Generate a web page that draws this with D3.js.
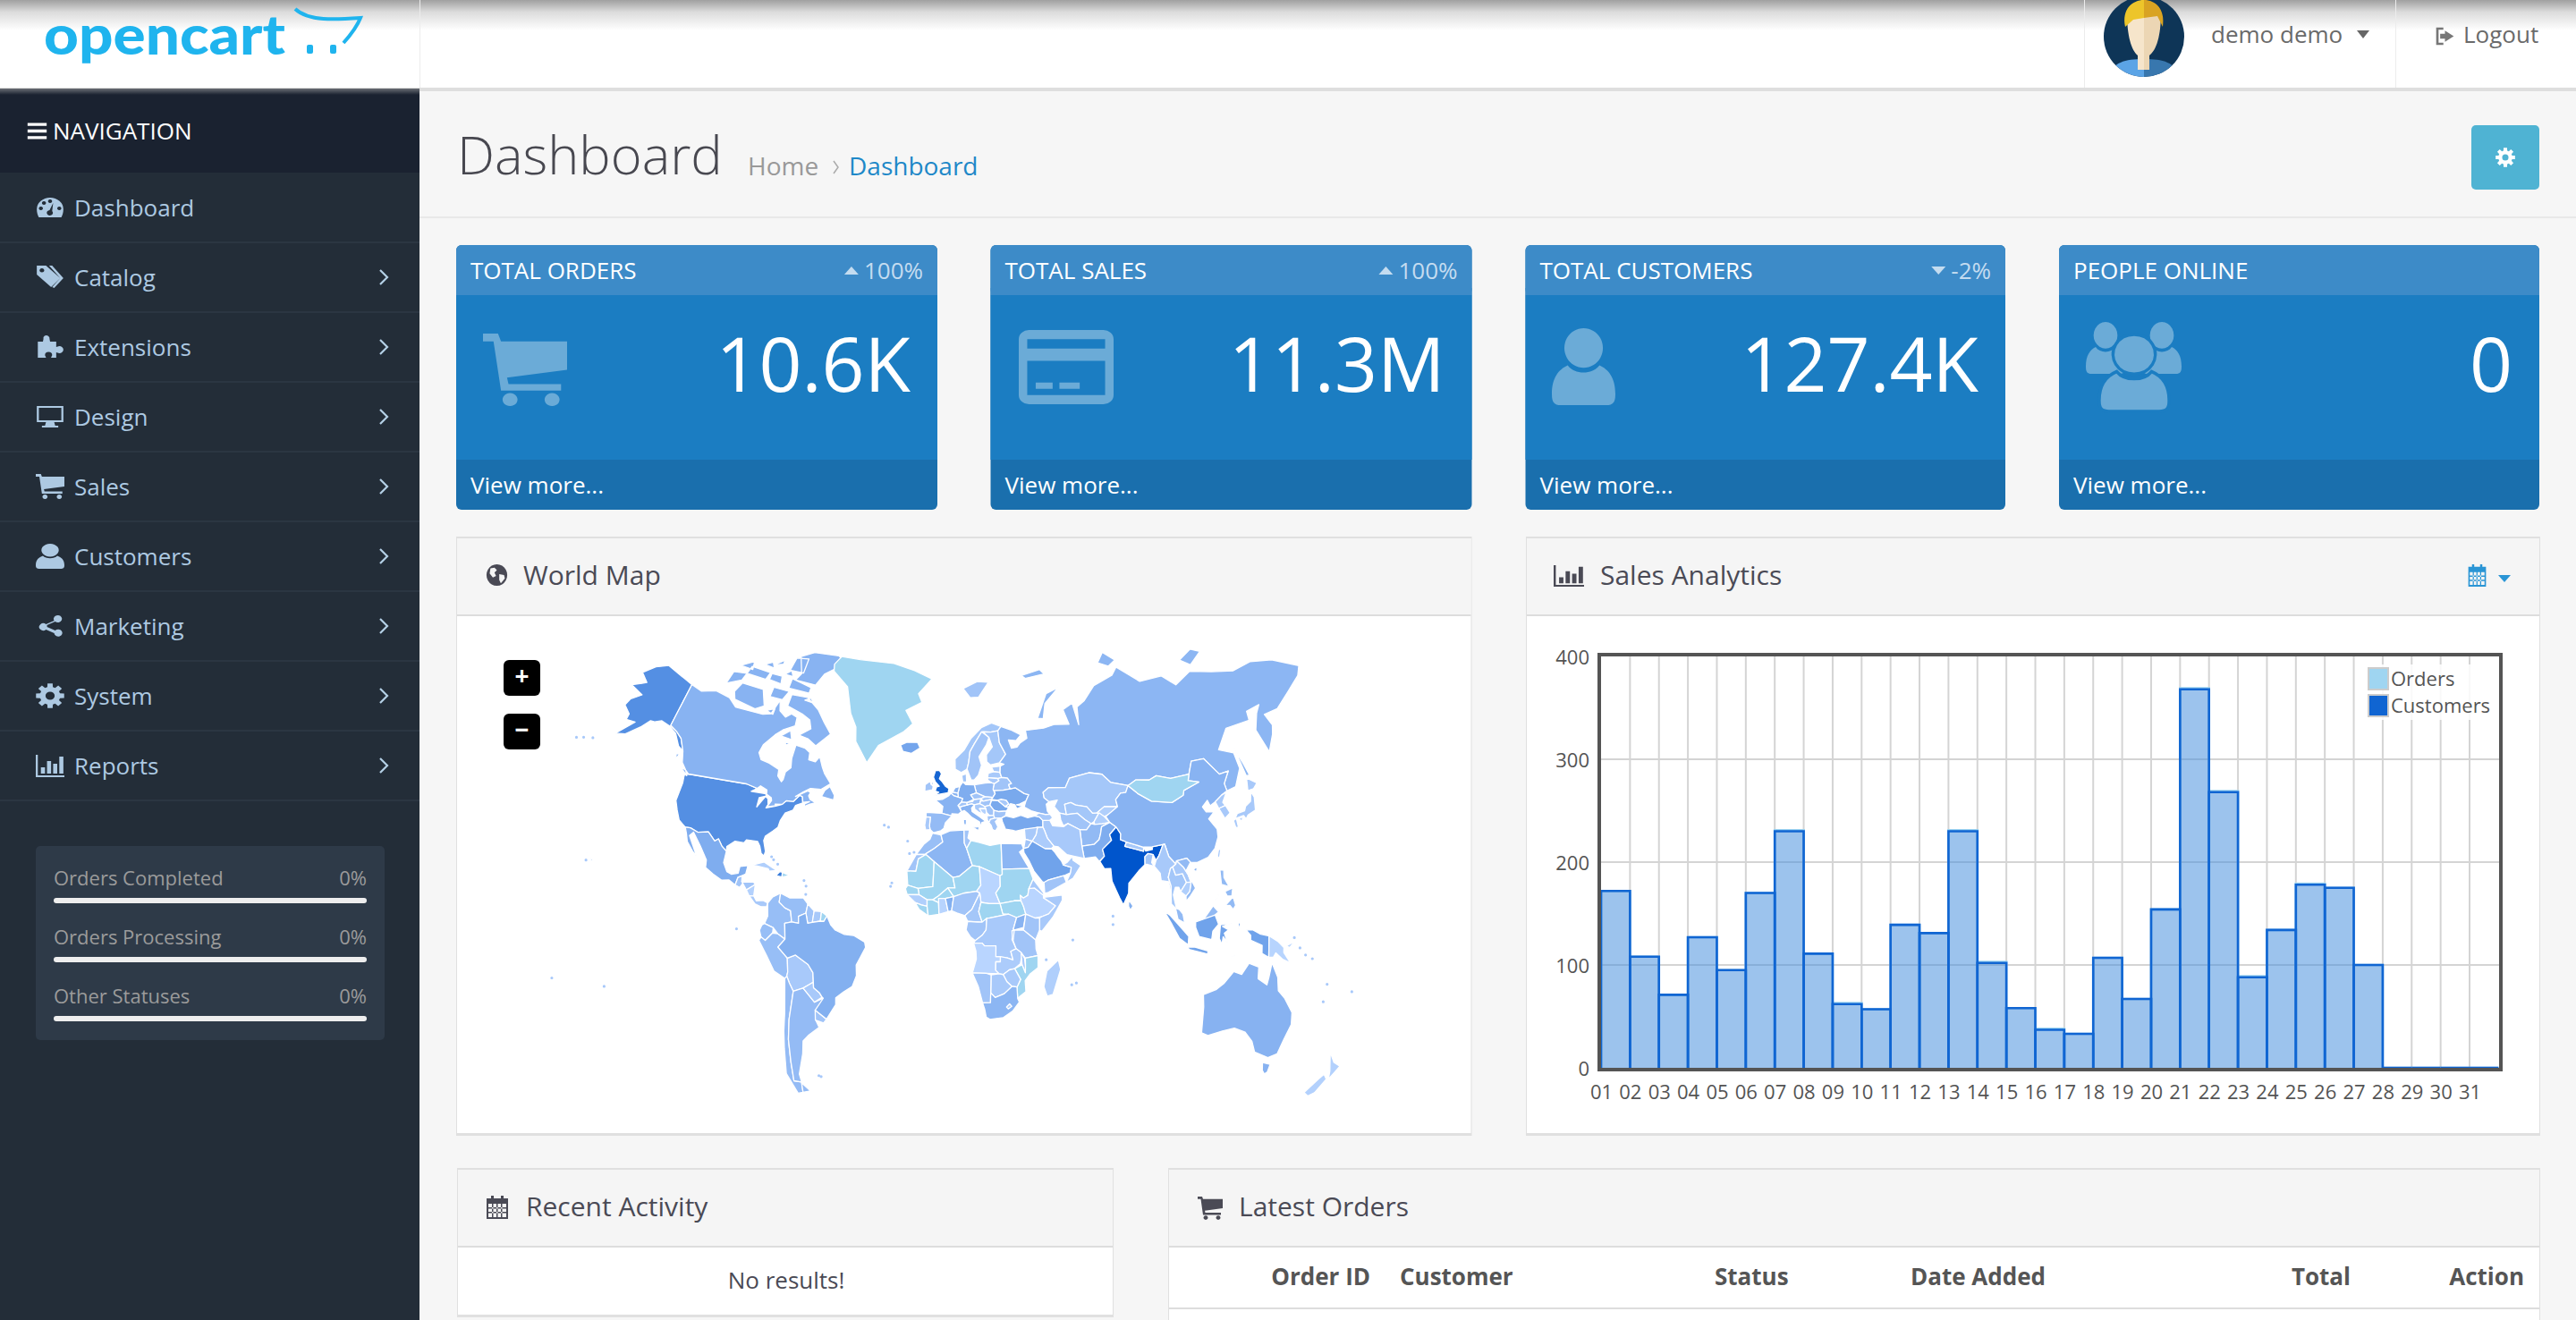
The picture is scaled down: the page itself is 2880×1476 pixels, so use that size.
<!DOCTYPE html>
<html>
<head>
<meta charset="utf-8">
<title>Dashboard</title>
<script src="https://cdn.jsdelivr.net/npm/d3@7"></script>
<style>
  html, body { margin: 0; padding: 0; background: #f6f6f6; overflow: hidden; }
  svg { display: block; }
  text { font-family: "Open Sans", sans-serif; }
  .axis path, .axis line { display: none; }
  .axis text { font-family: "Open Sans", sans-serif; font-size: 22px; fill: #545454; }
</style>
</head>
<body>
<div class="page"></div>
<script>
// Chart data
const days = d3.range(1, 32);
const customers = [172, 108, 71, 127, 95, 170, 230, 111, 62, 57, 139, 131, 230, 102, 58, 37, 33, 107, 67, 154, 368, 268, 88, 134, 178, 175, 100, 0, 0, 0, 0];
const orders = [172, 108, 71, 127, 95, 170, 231, 111, 63, 57, 139, 131, 231, 103, 58, 38, 33, 107, 67, 154, 369, 269, 89, 134, 179, 175, 100, 0, 0, 0, 0];
const yTicks = [0, 100, 200, 300, 400];
const legendLabels = ['Orders', 'Customers'];

// Page text
const menuLabels = ['Dashboard', 'Catalog', 'Extensions', 'Design', 'Sales', 'Customers', 'Marketing', 'System', 'Reports'];
const menuIcons = ['gauge', 'tags', 'puzzle', 'desktop', 'cart', 'user', 'share', 'cog', 'bars'];
const statusLabels = ['Orders Completed', 'Orders Processing', 'Other Statuses'];
const statusValues = ['0%', '0%', '0%'];
const cardTitles = ['TOTAL ORDERS', 'TOTAL SALES', 'TOTAL CUSTOMERS', 'PEOPLE ONLINE'];
const cardDeltas = ['100%', '100%', '-2%', ''];
const cardValues = ['10.6K', '11.3M', '127.4K', '0'];
const tableHeads = ['Order ID', 'Customer', 'Status', 'Date Added', 'Total', 'Action'];

// World map, lon,lat outlines per country
const mapShapes = {
  AK: ['-141,69.6 -148,70.4 -156.5,71.3 -162,70.2 -166.5,68.4 -162,67 -164,66.5 -168,65.6 -161,64.5 -165,63 -166,61.5 -162,60 -162,58.7 -157.5,58.7 -163.5,55 -159,55.5 -154,58 -151,60 -149,60 -146,60.7 -141,60 -137,58.8 -133,56 -130,55 -133.5,58 -137,59.3 -141,60.3'],
  US: ['-124.7,48.4 -123,49 -95.2,49 -89.6,48 -92,46.8 -85,46.6 -84.5,45.8 -87.5,45 -87.5,41.8 -86.3,43.5 -84.8,45.7 -83.4,45 -82.6,43 -83.2,41.8 -79,42.8 -76.5,43.5 -74.8,45 -71.5,45 -69.2,47.4 -67.8,47 -67,44.8 -70,43.7 -70.7,42 -74,40.7 -75.5,38 -76,35.5 -78,34 -81,32 -81.4,30.5 -80,26.8 -80.4,25.2 -81.8,26 -82.8,28.5 -84,30 -89,30.3 -90,29.2 -94,29.5 -97.3,27.5 -97.2,25.9 -99.5,27.5 -101.5,29.8 -103,29 -106.5,31.8 -111,31.3 -114.8,32.5 -117.1,32.5 -120.5,34.5 -122.5,37.5 -124.3,40.4 -124,46', '-155.9,20.2 -155,19.7 -155.6,19', '-158.2,21.7 -157.7,21.3 -158.2,21.3'],
  CA: ['-141,69.6 -135,69 -128,70 -120,69.5 -115,68 -108,68 -100,68 -96,68.5 -94,71.8 -92,69.6 -88,68.5 -85.5,69.5 -82,69 -81.5,67 -87,65.5 -90,64 -94,61 -94.7,58.8 -92.5,57 -88,56.4 -82.5,55 -82,53 -79.5,51.3 -79,52 -79,54.5 -77,56 -78,58.7 -78,62.4 -73,62 -70,61 -69.5,59 -66,58.7 -64.5,60.3 -62,57.5 -60,55.5 -56,52.5 -60,50.2 -65,50.2 -68,48.7 -71,46.8 -66,49.2 -64.5,48.8 -65,47.5 -64,46.3 -61,45.3 -63.5,44.6 -66,43.6 -66,44.5 -64,45.5 -67,45 -67.8,47 -69.2,47.4 -71.5,45 -74.8,45 -76.3,43.6 -79.5,43.4 -79,42.9 -83,42.2 -82.4,43 -81.5,44.5 -82,45.5 -84.6,46.5 -85,47.9 -88.5,49 -89.6,48 -95.2,49 -123,49 -125,50 -128,52 -130,55 -133.5,58 -137,59.3 -141,60.3',
    '-62,66.5 -68,63 -73,64.5 -78,65 -73,67 -75,69 -80,70 -89,71 -89,73.5 -80,73.7 -72,71.5 -67,69', '-117,69.5 -105,68.7 -101,69.8 -105,73 -117,73 -119,71', '-90,76.5 -78,76.5 -75,79 -64,82 -70,83 -85,82.4 -92,81 -88,78', '-125,72 -118,73.5 -117,75 -124,74.5', '-92,74.6 -80,74.6 -80,75.8 -92,76.6', '-100,72 -93,72 -91,74 -100,74', '-117,75 -106,75 -105,76.5 -116,76.5', '-95,78 -87,78.2 -87,81 -94,80.5', '-87,64 -81,63.6 -83,65.7', '-59,47.7 -53,46.8 -53,48.5 -56,51.5 -58,50', '-128,50.7 -123.5,48.4 -125,50', '-64,49.9 -62,49.4 -62,49.1',
    '-122,76 -116,77.5 -115,76', '-104,75.2 -97,75 -98,76.5 -104,76.4', '-105,78 -100,78.7 -100,79.5', '-99,69 -95,68.5 -95,69.8', '-81,73 -76,72.8 -78,73.7', '-84,62.8 -81,62.4 -83,62', '-97,77 -92,77 -94,78', '-110,77.6 -104,77.5 -106,78.5', '-132.5,54 -131,54 -131.5,52.5'],
  GL: ['-68,83 -56,83.2 -34,83.5 -20,82.5 -8.6,81 -16.4,77.8 -14,76 -23,74 -18.4,71 -23,69 -35.7,65 -40.3,60 -48,65.5 -49.5,69 -54,72 -59.5,77.5 -70,80 -71,81.3'],
  IS: ['-24,65.5 -21,66.3 -15,66.4 -13.5,65 -18,63.4 -22.5,63.9'],
  MX: ['-117.1,32.5 -114.8,32.5 -111,31.3 -106.5,31.8 -103,29 -101.5,29.8 -99.5,27.5 -97.2,25.9 -97.8,22 -96,19 -94,18.2 -91,18.7 -90.5,21 -87,21.5 -87.7,18.5 -89,18 -91,17.2 -92,14.6 -94.8,16.2 -98,16 -102,18 -105.5,20 -105.5,22.5 -109,27 -113,31.2 -114.5,30 -112,26.5 -110,23.5 -112,25 -115,28 -116,30.5'],
  GT: ['-92,14.6 -91,17.2 -89.2,17.8 -89.2,15.9 -88.3,15.7 -90,13.8'],
  HN: ['-89.2,15.9 -88.3,15.7 -84,15.8 -83.2,15 -87,13'],
  NI: ['-87,13 -83.2,15 -83.7,11 -85.7,11'],
  PA: ['-85.7,11 -83.7,11 -82.5,9.3 -79.5,9.5 -77.5,8.6 -78,7.3 -80.5,7.3 -83,8.2'],
  CU: ['-85,21.8 -80,23 -74.2,20.2 -77.5,19.9 -78,20.7'],
  HT: ['-74.4,18.4 -72.8,19.9 -71.7,19.7 -71.7,18'],
  DO: ['-71.7,19.7 -68.4,18.6 -71.7,18'],
  CO: ['-77.5,8.6 -75.5,10.7 -72,12.2 -72.5,9 -70,7 -67.5,6 -67,2 -70,1.5 -69.9,-4.2 -73,-2.3 -75,-0.1 -78.8,1.4 -77.4,4 -77.5,7'],
  VE: ['-72,12.2 -68,10.6 -62,10.7 -60,8.5 -60.8,5.2 -64,4 -64,1.5 -67,2 -67.5,6 -70,7 -72.5,9'],
  GY: ['-60,8.5 -57.2,6 -58,1.5 -60,1.5 -60.8,5.2'],
  SR: ['-57.2,6 -54,5.8 -54.5,2.3 -58,1.8'],
  GF: ['-54,5.8 -51.6,4.2 -53,2.2 -54.5,2.3'],
  EC: ['-80,0.8 -78.8,1.4 -75,-0.1 -75.3,-2 -78.5,-4.6 -80.3,-3.4 -81,-1'],
  PE: ['-81.3,-4.5 -80.3,-3.4 -78.5,-4.6 -75.3,-2 -73,-2.3 -69.9,-4.2 -73,-7 -70.5,-9.5 -69,-11 -69,-16 -69.5,-17.5 -70.4,-18.3 -75,-15.5 -78,-10'],
  BO: ['-69,-11 -65.4,-10 -60,-13.5 -58,-16.5 -58,-20 -62.6,-22 -67,-23 -68.5,-20 -69.5,-17.5 -69,-16'],
  CL: ['-70.4,-18.3 -69.5,-17.5 -68.5,-20 -67,-23 -70,-33 -71.5,-40 -72,-47 -72,-52 -68.5,-52.5 -68.6,-54.9 -71,-55 -75,-50 -74,-43 -73,-37 -71.5,-30'],
  AR: ['-67,-23 -62.6,-22 -58,-27.3 -54,-26 -58.3,-33.5 -57,-36.5 -62,-39 -65,-41 -66,-45 -69,-50.5 -68.5,-52.5 -72,-52 -72,-47 -71.5,-40 -70,-33', '-68.6,-52.7 -65,-54.8 -68.6,-54.9'],
  PY: ['-62.6,-22 -58,-20 -58,-22 -55.5,-24 -54.5,-25.6 -58,-27.3'],
  UY: ['-58,-30.2 -53.3,-33.7 -54.8,-35 -58.3,-33.8'],
  BR: ['-60.8,5.2 -60,1.5 -58,1.8 -54.5,2.3 -53,2.2 -51.6,4.2 -50,1 -48,-1 -44,-2.6 -40,-3 -35.2,-5.5 -34.8,-7.5 -37,-11 -39,-14 -39,-18 -41,-22 -45,-24 -48.5,-26 -48.7,-28.5 -53.3,-33.7 -58,-30.2 -54,-26 -54.5,-25.6 -55.5,-24 -58,-22 -58,-16.5 -60,-13.5 -65.4,-10 -69,-11 -70.5,-9.5 -73,-7 -69.9,-4.2 -70,1.5 -67,2 -64,1.5 -64,4'],
  GB: ['-5,58.6 -3,58.6 -2,57.6 -3,56 -1.5,55 0,53.5 1.7,52.7 1.3,51.2 -3,50.6 -5.5,50 -3.2,51.4 -5,51.8 -4.3,53.3 -3,53.5 -5,55 -6,56.5', '-7.2,55.1 -5.5,54.5 -6.5,54'],
  IE: ['-10,54 -7.4,55.3 -7.2,54.2 -6,53.5 -6.3,52.2 -10,51.6'],
  NO: ['5,59 5,62 10,64.5 14,67.5 20,70 26,71 31,70 29,69 25,68.8 20,69 15.5,66 13,64 12,61 11,59 8,58'],
  SE: ['11,59 12,61 13,64 15.5,66 20,69 23.7,67.5 22,65.7 17.5,62.5 18.5,60 16.5,57 14.3,55.5 12.8,55.5'],
  FI: ['20.6,69 25,68.8 29,69 29,66 31.5,62.8 27.8,60.5 23,60 21.3,61 21.5,63 25,65 23.7,67.5'],
  DK: ['8.2,57 10.5,57.6 10.5,55 8.6,54.9'],
  EE: ['23.5,59.3 28,59.5 27.4,57.6 24.3,58'],
  LV: ['21,56.1 21.6,57.5 24.3,57.9 27.4,57.6 28,56 26,55.7'],
  LT: ['21,55.3 21,56.1 26,55.7 26.5,55 24,54 22.8,54.4'],
  BY: ['23.5,53 23.2,52 23.7,51.6 28,51.6 31.5,52 31,53.5 32.5,53.8 30.8,55.7 28,56 26,55.7 26.5,55 24,54'],
  PL: ['14.2,53.9 19.5,54.4 22.8,54.4 24,54 23.5,53 23.2,52 24,50.5 22.7,49.1 19,49.5 15,51 14.7,52'],
  DE: ['8.6,54.9 10,54 14.2,53.9 14.7,52 15,51 12.2,50.3 13.6,48.6 10.2,47.4 7.6,47.6 8.2,49 6.2,49.5 6,51 7,53.4'],
  NL: ['3.5,51.4 4.7,53 7,53.4 6,51'],
  BE: ['2.6,51 3.5,51.4 6,51 6.2,49.6 4.2,50'],
  FR: ['2.6,51 4.2,50 6.2,49.5 8.2,49 7.6,47.6 6,46.3 7.5,44 6,43 3,43.2 3,42.4 -1.7,43.3 -1.2,46 -4.7,48.4 -1.5,48.7 1.5,50'],
  ES: ['-9,43.7 -1.7,43.4 3,42.4 0,39.8 -0.7,37.7 -2,36.8 -5.4,36 -7,37.2 -7.3,38.5 -7,41.9 -9,42'],
  PT: ['-9,42 -7,41.9 -7.3,38.5 -7,37.2 -9,37 -9.5,38.8'],
  IT: ['7.5,44 6.8,45.8 8.5,46.2 12.5,47 13.7,46.5 12.3,45.3 12.5,44 16,41.9 18.5,40.2 16.7,39.7 16,38 15.7,40 12.2,41.8 10.2,43.5 8.8,44.4', '12.5,38 15.6,38.2 15,36.7', '8.3,41 9.7,41 9.6,39 8.5,39'],
  CH: ['6,46.3 7.6,47.6 10.2,47.4 10.3,46.5 8.5,46.2 6.8,45.8'],
  AT: ['10.2,47.4 13,47.8 13.6,48.6 17,48.8 16.2,46.9 13.7,46.5 12.5,47 10.3,46.5'],
  CZ: ['12.2,50.3 15,51 19,49.5 17,48.8 13.6,48.6'],
  SK: ['17,48.8 19,49.5 22.7,49.1 22,48.4 18,47.8'],
  HU: ['16.2,46.9 17,48 18,47.8 22,48.4 21,46.2 18.5,45.8'],
  RO: ['21,46.2 22,48 24.8,48 28.2,45.5 29.6,45 28.6,43.8 25,43.7 22.7,44.2'],
  MD: ['26.6,48.3 29,47.8 30,46.4 28.2,45.5 24.8,48'],
  UA: ['24,50.5 23.7,51.6 28,51.6 31.5,52 34,52.3 38,50 40,49.5 38.2,47.2 35,46.2 33.5,46 36.5,45.3 33.5,44.5 32.8,46 30.8,46.5 29.7,45.4 28.2,45.5 30,46.4 29,47.8 26.6,48.3 24.8,48 22,48.4 22.7,49.1'],
  HR: ['13.7,46.5 16.2,46.9 18.5,45.8 19,45 16,45 19,42.5 15.5,43.7 13.7,45'],
  BA: ['16,45 19,45 19.2,43.5 18.5,42.6 17,43.5'],
  RS: ['18.5,45.8 21,46.2 22.7,44.2 22.4,42.4 20.5,42.3 19.2,43.5 19,45'],
  AL: ['19.3,42.2 20.5,42.3 22.4,42.4 22.8,41.3 20.8,40.9 20,39.7 19.4,40.6'],
  BG: ['22.7,44.2 25,43.7 28.6,43.8 27.8,42 26,41.3 22.8,41.3 22.4,42.4'],
  GR: ['20.8,40.9 22.8,41.3 26,41.3 24,40.7 23,40 24,38 22.8,36.5 21.5,37 21,38.5 20,39.7'],
  TR: ['26.2,40 26,41.3 28,42 31.5,41.2 35,42 38,41 41.5,41.5 43.5,41 44.8,39.7 44.5,37.2 42,37.2 36.7,36.3 36,36.8 32,36.1 30.5,36.5 27.4,37'],
  RU: ['28,59.5 30,60 27.8,60.5 31.5,62.8 29,66 29,69 31,70 36,69 41,67.5 38,66.2 34,66.5 35,64.3 38,64.5 40,65.5 44,66.5 44,68.5 54,68.5 60,69 68,68.5 67,72 73,73 73,68 75,72 80,73 88,75.5 100,76.5 104,77.7 113,73.8 125,73.5 130,71 140,72.5 150,71 160,69.7 170,70 180,68.8 190,66 187,64.5 179,62.5 170,60 163,59.7 164,57 162,55 156.7,51 155.7,57 160,60.5 163,62 156,61.5 155,59.5 143,59.3 135,54.7 141,53 140.5,48.5 135.5,43.5 131,42.7 131,45 135,48.4 130.5,48 126.5,53.3 120.5,53.3 117,49.7 108,49.4 102,51 98,50 92,50.7 87.5,49.2 80,51 77,54 71,55 61,54 58,51 50,51.5 47,50 47,48 49,46.4 47.5,45.6 47.5,43 48.5,41.8 46.5,41.8 43.5,42.5 40,43.5 37,45 38.2,47.2 40,49.5 38,50 34,52.3 31.5,52 31,53.5 32.5,53.8 30.8,55.7 28,56 27.5,57.5',
    '52,71 55,70.7 58,74 68,76.8 60,76 55,73', '142,54.3 143,49.5 143.5,46 142,46 142,50', '95,79.5 100,81 105,79 100,78.3', '138,75 146,76 150,75 142,73.5', '48,80.5 60,81 62,80 50,79.8'],
  SJ: ['11,79 20,80.3 27,80 20,77 15,77'],
  KZ: ['47,50 50,51.5 58,51 61,54 71,55 77,54 80,51 87.5,49.2 85.5,47 83,47 80,45 80,42.5 74,43 70,41 68,41 66,43.5 61,44.5 59,45.5 56,45 56,41.3 53,42 51,44.5 53,46.8 49,46.4 47,48'],
  UZ: ['56,45 59,45.5 61,44.5 66,43.5 68,41 70,41 71,41 68,38 66.5,37.4 64,39 61,41.5 56,41.3'],
  TM: ['53,42 56,41.3 61,41.5 64,39 66.5,37.4 64,35.3 61,35.5 56,38 53.8,37.3 53,39.5'],
  KG: ['70,41 74,43 80,42.5 76,40.3 73,39.5'],
  TJ: ['68,38 71,41 73,39.5 75,37.3 71.5,37 68,37'],
  AF: ['61,35.5 64,35.3 66.5,37.4 68,37 71.5,37 75,37.3 71,36 70,33.5 69,31.5 66.5,29.9 61,29.5 61,31.5'],
  PK: ['61,29.5 66.5,29.9 69,31.5 70,33.5 71,36 75,37.3 77.5,35.5 74,33 74.5,31 70,28 70.5,25.5 68,23.7 66.5,25.4 61.5,25'],
  IR: ['44.8,39.7 48,39.6 49,37.5 54,37 56,38 61,35.5 61,31.5 61,29.5 61.5,25 57,26 54,26.7 50.5,29.7 48.5,30 46,33 45,36 44.5,37.2'],
  IQ: ['42,37.2 44.5,37.2 45,36 46,33 48.5,30 47.5,29.3 44.5,29.2 39,32.2 41,34.5'],
  SY: ['36,36.8 42,37.2 41,34.5 39,32.2 36,33'],
  JO: ['35,29.5 36,33 39,32.2 37,30'],
  SA: ['35,28 34.9,29.5 37,30 39,32.2 44.5,29.2 47.5,29 48.5,28 50,26 51.3,24.5 52,23 55.5,22 55,20 52,19 45,17.5 43.2,16.7 42.5,17 39,21 37,25'],
  YE: ['43.2,16.7 45,17.5 52,19 53,16.6 45,13 43.4,12.7'],
  OM: ['52,23 55.5,22 55,20 53,16.6 56,18 59.8,22.5 56.5,24.5 56.3,26 54,24'],
  GE: ['41.5,41.5 43.5,42.5 46.5,41.8 48.5,41.8 49.5,40.5 48,39.6 44.8,39.7 43.5,41'],
  IN: ['77.5,35.5 79,33 78.5,31 81,30 80,28.5 88,26.4 88.2,27.8 89,26.4 92,26.8 92,27.7 97,28.2 94.5,24.5 93,23 92,25 89.8,25.5 88.3,24.5 88,21.8 85,19.7 80.3,15.5 80,12 77.6,8 76,10.5 73,16.5 72.8,21 70,21 68.3,23.7 70.5,25.5 70,28 74.5,31 74,33'],
  NP: ['80,28.5 81,30 88.2,27.8 88,26.4'],
  BD: ['88.3,24.5 89.8,25.5 92,25 91,22.3 92,21 89,21.8 88,21.8'],
  LK: ['80,9.7 81.8,7.5 80.6,6 79.8,7.5'],
  CN: ['73.7,39.5 80,42.5 80,45 83,47 85.5,47 87.5,49.2 91,46 96,43 105,41.7 111,43.5 112,45 120,46.8 115.5,47.8 117,49.7 120.5,53.3 126.5,53.3 130.5,48 135,48.4 131,45 131,42.7 128,41.7 124.3,40 121.5,39 121,40.8 118,39 119,37.3 122.5,37 119.3,35 122,31.5 121.7,29 119.5,25.5 116,22.8 111,21.4 108,21.6 106.6,23 102,22.4 101.5,21.3 98.8,24 97.7,28.3 92,27.7 88.2,27.8 81,30 78.5,31 79,33 77.5,35.5 75,37.3', '108.8,19.2 110.8,20 110.2,18.3'],
  TW: ['121,25 122,25 120.8,22 120.1,23'],
  MN: ['87.5,49.2 92,50.7 98,50 102,51 108,49.4 117,49.7 115.5,47.8 120,46.8 112,45 111,43.5 105,41.7 96,43 91,46'],
  KP: ['124.3,40 128,41.7 130.6,42.4 127.5,39.5 128.3,38.4 125,37.8'],
  KR: ['125,37.8 128.3,38.4 129.4,36 126.5,34.5'],
  JP: ['130.9,34 132.5,35.5 136,36 137,37.3 139.8,38.5 141.3,41.3 142,39.5 140.8,35.7 137,34.6 135.7,33.5 135,34.6', '140.2,41.7 141.7,45.4 145.3,43.4 143,42', '130,33.5 131.5,34 131.5,31.3 130.3,31.3', '132.5,33.8 134.5,34.3 133.7,33'],
  MM: ['92,21 92.5,22 93,23 94.5,24.5 97,28.2 97.7,28.3 98.8,24 101.5,21.3 99,20 97.7,17 98.7,14 98.7,10 97.7,15.5 94.5,16 94.3,18.5'],
  TH: ['100,20.4 101,17.6 104,18 105.5,15 102.7,12 102,13.5 100.5,13.5 99.5,11 100.5,7 102,6 100.3,6.5 98.5,8 98.7,14 97.7,17 99,20'],
  LA: ['101.5,21.3 102,22.4 104.8,20 106.5,17.5 107.5,15 105.5,15 104,18 101,17.6 100,20.4'],
  VN: ['102,22.4 106.6,23 108,21.6 105.8,19 107,16.8 109.3,13 107,10.5 105,8.7 105,10.5 106.7,12 107.5,15 106.5,17.5 104.8,20'],
  KH: ['102.7,12 105.5,15 107.5,15 106.7,12 105,10.5'],
  MY: ['100.3,6.5 102,6 103.5,4.5 104.2,1.5 101.3,2.8', '109.6,1.8 113,3.2 116.7,7 119,5 117.6,4.1 115,2.5 110,1'],
  ID: ['95.3,5.6 98,4 103.7,-1 106,-3 105.8,-5.8 102,-3.7 98.7,1', '105.3,-6.6 108.5,-6.5 114.5,-7.7 114.3,-8.7 106.5,-7.4', '109,1.8 117.5,4 119,1 116.5,-1.2 116,-4 110.5,-3 109,0', '119.8,0.8 125,1.5 120.7,0.3 123.3,-0.8 121.5,-1.9 123,-5 121,-3 120.5,-5.5 119.3,-3.5', '131,-0.8 134,-0.8 137,-2 141,-2.6 141,-9.1 138,-8 138,-5.5 133,-4 133,-2.5', '124,-10 127,-8.5 125,-9.3', '127.5,2 128.5,1 127.8,-0.8'],
  PH: ['120.5,18.5 122.2,18.3 122,16 124,13 120.7,13.8', '122,7 125.5,9.7 126.5,7 125.4,5.7 124,7', '117.2,8.5 119.5,11.2 119,10', '122,11.5 125.5,12.5 125,10 123,10'],
  PG: ['141,-2.6 145,-4.3 147.5,-6 147.5,-7.5 150.5,-10.5 147,-9.5 144,-7.7 143,-9 141,-9.1', '148.5,-5.5 152,-4.2 150,-6'],
  AU: ['113.5,-22 114.2,-26 115,-34.4 118,-35 124,-33 129,-31.7 134,-32.5 137.8,-35 140,-38 146.4,-39 150,-37.5 151.5,-33 153.5,-28.5 153,-25 149,-21 146,-19 145.3,-15 142.5,-10.7 141.5,-15 140.8,-17.5 136.8,-15.8 136.8,-12.2 132.5,-11.2 129.5,-14.8 126,-14 122,-18 119,-20', '144.7,-40.7 148.2,-40.8 147.9,-43 146.8,-43.6 145.5,-42.8'],
  NZ: ['172.8,-34.5 175.5,-37 178.5,-37.7 177,-39.5 175.2,-41.6 174.8,-39.5', '172.7,-40.6 174.3,-41.7 171,-45.5 168.5,-46.6 166.5,-46 171,-42'],
  MA: ['-5.9,35.8 -2,35.2 -1.2,32.5 -5,30 -8.7,28 -8.7,27.7 -13,27.7 -9.8,31.5 -7,33.5'],
  EH: ['-8.7,27.7 -13,27.7 -17,21.4 -13,21.3 -12,26'],
  DZ: ['-2,35.2 2,36.7 8.5,37 8.5,32 9.5,30 11.9,23.5 6,19.4 3.3,19 -5,25 -8.7,27.7 -8.7,28 -5,30 -1.2,32.5'],
  TN: ['8.5,37 11,37 10.2,34 11.5,33 9.5,30 8.5,32'],
  LY: ['11.5,33 15,32.3 20,31 25,31.7 25,20 24,19.5 15,23 11.9,23.5 9.5,30'],
  EG: ['25,31.7 34.2,31.3 34.9,29.5 33,28.3 35.7,24 37,22 25,22'],
  MR: ['-17,21.4 -13,21.3 -12,26 -8.7,27.7 -5,25 -5.5,15.5 -12,14.8 -16.5,16'],
  ML: ['-12,14.8 -5.5,15.5 -5,25 3.3,19 4.2,15 1,15 -3,12 -5.5,10.5 -8,10.5 -11.5,12.4'],
  NE: ['4.2,15 3.3,19 6,19.4 11.9,23.5 15,23 15.5,16 13.6,13.7 8,13 3.6,11.7 1,15'],
  TD: ['15,23 24,19.5 24,15.5 22,13 23.8,9 19,9 15.5,9.5 15,13 13.6,13.7 15.5,16'],
  SD: ['24,19.5 25,20 25,22 37,22 38.5,18 36.5,14.5 36,12 34,11 32.7,12 33,10 30,10 27,9.5 23.8,9 22,13 24,15.5'],
  SS: ['23.8,9 27,9.5 30,10 33,10 34,8 35,5 31,3.7 28,4.7 25,5'],
  ET: ['36.5,14.5 39,14.7 42.8,12 42.8,11 48,8 45,5 42,4 39,3.5 35,5 34,8 33,10 32.7,12 34,11 36,12'],
  ER: ['38.5,18 43,12.7 42.8,12 39,14.7 36.5,14.5'],
  SO: ['43,11.2 51,11.9 51,10 47,4 42,-1.5 41,-1 41,3.5 42,4 45,5 48,8 42.8,11'],
  SN: ['-17.5,14.7 -16.5,16 -12,14.8 -11.5,12.4 -16.7,12.4'],
  GN: ['-16.7,12.4 -11.5,12.4 -8,10.5 -8,8 -10.5,8.5 -13.3,9.5'],
  LR: ['-13.3,9.5 -10.5,8.5 -8,8 -7.5,4.4 -11.5,6.9'],
  CI: ['-8,10.5 -5.5,10.5 -3,9.5 -2.8,5 -7.5,4.4 -8,8'],
  BF: ['-5.5,10.5 -3,12 1,15 3.6,11.7 0,11 -3,9.5'],
  GH: ['-3,11 0,11 1.2,6 -2.8,5'],
  BJ: ['0,11 3.6,11.7 2.7,6.3 1.2,6'],
  NG: ['3.6,11.7 8,13 13.6,13.7 15,13 11.5,6.8 8.5,4.5 5,5.5 2.7,6.3'],
  CM: ['15,13 15.5,9.5 14.5,6 16,2 9.7,2.3 8.5,4.5 11.5,6.8'],
  CF: ['15.5,9.5 19,9 23.8,9 25,5 27.5,5 19,3.5 16,2 14.5,6'],
  CG: ['9.7,2.3 14,2 16,2 18,3.5 17.7,-1 16,-3 13,-5 11,-3.7 9,-1'],
  CD: ['19,3.5 27.5,5 31,3.7 29.6,-0.6 29,-4.5 30.8,-8 28.5,-9 29.5,-12.2 27,-11.5 22,-11 22,-7 17,-7 16,-6 12.3,-6 13,-5 16,-3 17.7,-1 18,3.5'],
  UG: ['31,3.7 35,5 34,0 30,-1 29.6,-0.6'],
  KE: ['35,5 39,3.5 41,3.5 41,-1 39.3,-4.7 34,-1'],
  RW: ['29,-1.2 30.8,-1.2 30.5,-4.3 29.2,-4.4'],
  TZ: ['30,-1 34,-1 39.3,-4.7 39.5,-8 40.4,-10.5 34.9,-11.5 32.9,-9.4 30.8,-8 29.5,-5'],
  AO: ['12.3,-6 16,-6 17,-7 22,-7 22,-11 24,-11 24,-13 22,-13 22,-16.2 23.5,-17.5 18,-17.4 11.8,-17.3 13.5,-12 13.3,-9'],
  ZM: ['22,-11 24,-11 27,-11.5 29.5,-12.2 28.5,-9 30.8,-8 33,-9.4 33.3,-11 32.7,-13.7 30.3,-15.5 28,-16 25.3,-17.8 23.5,-17.5 22,-16.2 22,-13 24,-13 24,-11'],
  MW: ['33,-9.4 34.5,-11.5 35,-14.5 35,-17 33.5,-14'],
  MZ: ['40.4,-10.5 34.9,-11.5 35,-14.5 35,-17 33.5,-14 30.3,-15.5 33,-19.5 31.5,-22.4 32,-26.8 33,-25.8 35.5,-24 35,-20 37,-17.5 40.5,-15'],
  ZW: ['25.3,-17.8 28,-16 30.3,-15.5 33,-19.5 31.5,-22.4 29.3,-22.2 27,-20.5'],
  BW: ['20,-18 23.5,-17.5 25.3,-17.8 27,-20.5 29.3,-22.2 26,-25 22,-26.5 20,-24.8 20,-22'],
  NA: ['11.8,-17.3 18,-17.4 20,-18 20,-22 20,-24.8 20,-28.5 16.5,-28.6 14.5,-22.5'],
  ZA: ['16.5,-28.6 20,-28.5 20,-24.8 22,-26.5 26,-25 29.3,-22.2 31.5,-22.4 32,-26.8 32.8,-28 30,-31.5 26,-34 20,-34.8 18.3,-34 17.5,-31'],
  LS: ['27.2,-30 28.5,-28.8 29.5,-29.7 28,-30.7'],
  MG: ['49.3,-12 50.4,-15.5 47.5,-24.8 45,-25.5 43.3,-22 44.4,-16.2']
};

// Small islands, lon,lat
const islandPoints = [[-172, 52.5], [-176, 52], [-179, 51.5], [-24, 15.5], [-23.5, 16.8], [-16, 28], [-14, 28.5], [-28, 38.5], [-26, 37.8], [-17, 32.7],
  [73, 4], [73, 1], [55.5, -4.6], [57.5, -20.3], [55.5, -21], [44, -12], [-61, 15], [-61, 12], [-62, 17], [-77, 25], [-76, 24], [-74, 22.5],
  [160, -9], [157, -8], [167, -16], [166, -21], [178, -17.5], [-59, -51.7], [-60, -51.4], [-149.5, -17.5], [-172, -14], [-158, 19.5], [-91, -0.5], [152, -3], [154.5, -6]];

// Sessions per country, read from the shade of each country
const mapValues = {
  AK: 55, US: 55, CA: 27, GL: 0, IS: 38, MX: 32, GT: 14, HN: 14, NI: 4, PA: 10, CU: 6, HT: 70, DO: 0,
  CO: 19, VE: 19, GY: 14, SR: 10, GF: 0, EC: 19, PE: 19, BO: 10, CL: 21, AR: 21, PY: 10, UY: 14, BR: 30,
  GB: 88, IE: 14, NO: 12, SE: 14, FI: 12, DK: 14, EE: 10, LV: 10, LT: 10, BY: 14, PL: 21, DE: 32, NL: 27, BE: 27,
  FR: 27, ES: 21, PT: 10, IT: 27, CH: 14, AT: 14, CZ: 14, SK: 10, HU: 14, RO: 35, MD: 10, UA: 35, HR: 10,
  BA: 4, RS: 14, AL: 14, BG: 14, GR: 14, TR: 36, RU: 25, SJ: 14, KZ: 12, UZ: 12, TM: 14, KG: 6, TJ: 6,
  AF: 22, PK: 32, IR: 10, IQ: 8, SY: 10, JO: 14, SA: 40, YE: 14, OM: 10, GE: 10, IN: 100, NP: 10, BD: 14, LK: 30,
  CN: 27, TW: 10, MN: 0, KP: 10, KR: 10, JP: 10, MM: 10, TH: 12, LA: 10, VN: 22, KH: 6, MY: 22, ID: 40, PH: 22, PG: 2,
  AU: 28, NZ: 4, MA: 18, EH: 14, DZ: 25, TN: 14, LY: 0, EG: 25, MR: 0, ML: 0, NE: 0, TD: 1, SD: 0, SS: 0, ET: 1,
  ER: 10, SO: 10, SN: 0, GN: 6, LR: 0, CI: 0, BF: 0, GH: 2, BJ: 30, NG: 14, CM: 12, CF: 0, CG: 14, CD: 10,
  UG: 27, KE: 14, RW: 14, TZ: 14, AO: 1, ZM: 8, MW: 10, MZ: 0, ZW: 10, BW: 10, NA: 14, ZA: 25, LS: 4, MG: 6
};

const width = 2880, height = 1476;
const svg = d3.select('.page').append('svg').attr('width', width).attr('height', height);
const defs = svg.append('defs');

function txt(parent, x, y, str, o = {}) {
  return parent.append('text').attr('x', x).attr('y', y).text(str)
    .attr('font-size', o.size || 26)
    .attr('font-weight', o.weight || 400)
    .attr('fill', o.fill || '#4a4a55')
    .attr('text-anchor', o.anchor || 'start')
    .style('font-family', o.family || null);
}

function box(parent, x, y, w, h, fill, r = 0) {
  return parent.append('rect').attr('x', x).attr('y', y).attr('width', w).attr('height', h).attr('fill', fill).attr('rx', r);
}

// Gear outline, 8 teeth on a 28 box
function gearPath() {
  const p = d3.path();
  for (let i = 0; i < 8; i++) {
    const a = i * Math.PI / 4;
    [[-0.3, 10], [-0.2, 14], [0.2, 14], [0.3, 10]].forEach((q, k) => {
      const ang = a + q[0] * 0.9;
      const px = 14 + q[1] * Math.cos(ang), py = 14 + q[1] * Math.sin(ang);
      if (i === 0 && k === 0) p.moveTo(px, py); else p.lineTo(px, py);
    });
  }
  p.closePath();
  p.moveTo(18.5, 14);
  p.arc(14, 14, 4.5, 0, 2 * Math.PI);
  return p.toString();
}

// Icons are drawn on a 28 by 28 box and stretched to the wanted size
const iconPaths = {
  gauge: 'M14 3a13 13 0 0 1 13 13c0 4-1 7-2 9H3c-1-2-2-5-2-9A13 13 0 0 1 14 3zM8 7a2 2 0 1 0 .01 0zM14 5a2 2 0 1 0 .01 0zM5 13a2 2 0 1 0 .01 0zM23 13a2 2 0 1 0 .01 0zM17 9l-3.5 8a3 3 0 1 0 2.5 1z',
  tags: 'M1 1h9l14 14-9 10L1 11zM6 4a2.3 2.3 0 1 0 .01 0zM13 1h3l11 14-9 11-2-1 8-10z',
  puzzle: 'M10 1a3.5 3.5 0 0 1 3.5 4c0 1 .5 2 .5 3h6v6c1 0 2-1 3-1a3.5 3.5 0 0 1 0 8c-1 0-2-1-3-1v6h-5c0-1 1-2 1-3a3.5 3.5 0 0 0-7 0c0 1 1 2 1 3H2V8h5c0-1 .5-2 .5-3A3.5 3.5 0 0 1 10 1z',
  desktop: 'M1 2h26v18H1zM3 4v14h22V4zM10 20h8l1 4h3v2H6v-2h3z',
  cart: 'M0 0h5l1 3h22v11l-20 3 .5 2.500H26V22H6L3.500 3H0zM9 23a2.500 2.500 0 1 0 .01 0zM23 23a2.500 2.500 0 1 0 .01 0z',
  card: 'M3 2h22a3 3 0 0 1 3 3v18a3 3 0 0 1-3 3H3a3 3 0 0 1-3-3V5a3 3 0 0 1 3-3zM2.500 5v3h23V5zM2.500 12v11h23V12zM5 19h5v2H5zM12 19h6v2h-6z',
  user: 'M14 0a8.500 7.200 0 1 0 .01 0zM0 24C0 18 3 15 7 13.500C10 17 18 17 21 13.500C25 15 28 18 28 24C28 27 27 28 24 28H4C1 28 0 27 0 24z',
  share: 'M22 2a4 4 0 1 1-3 7l-8 4v2l8 4a4 4 0 1 1-1 3l-8-4a4 4 0 1 1 0-6l8-4a4 4 0 0 1 4-6z',
  cog: gearPath(),
  bars: 'M0 2h2v23h26v2H0zM5 16h4v7H5zM11 9h4v14h-4zM17 12h4v11h-4zM23 4h4v19h-4z',
  globe: 'M14 1a13 13 0 1 0 .01 0zM6 6l5-1 3 3-3 3 2 4-4 2-4-5zM17 13l6 1 1 4-5 6-2-4z',
  calendar: 'M2 4h5V1h3v3h8V1h3v3h5v23H2zM4 10v15h20V10zM8 10v15h1.500V10zM13 10v15h1.500V10zM18 10v15h1.500V10zM4 14h20v1.500H4zM4 19h20v1.500H4z',
  logout: 'M3 3h9v3H6v16h6v3H3zM14 7l11 7-11 7v-4H8v-6h6z',
  bullets: 'M1 3h26v4H1zM1 12h26v4H1zM1 21h26v4H1z'
};

function icon(parent, name, x, y, w, h, fill, opacity = 1) {
  return parent.append('path').attr('d', iconPaths[name])
    .attr('fill', fill).attr('fill-rule', 'evenodd').attr('opacity', opacity)
    .attr('transform', `translate(${x},${y}) scale(${w / 28},${h / 28})`);
}

function chevron(parent, x, y) {
  parent.append('path').attr('d', `M${x - 4},${y - 8}L${x + 4},${y}L${x - 4},${y + 8}`)
    .attr('fill', 'none').attr('stroke', '#b4d0e6').attr('stroke-width', 2.2);
}

function caret(parent, x, y, w, h, fill) {
  parent.append('path').attr('d', `M${x - w / 2},${y}H${x + w / 2}L${x},${y + h}Z`).attr('fill', fill);
}

// Header
const topGrad = defs.append('linearGradient').attr('id', 'topShade').attr('x1', 0).attr('x2', 0).attr('y1', 0).attr('y2', 1);
topGrad.append('stop').attr('offset', 0).attr('stop-color', '#a0a0a0');
topGrad.append('stop').attr('offset', 0.4).attr('stop-color', '#dcdcdc');
topGrad.append('stop').attr('offset', 1).attr('stop-color', '#ffffff');
const navGrad = defs.append('linearGradient').attr('id', 'navShade').attr('x1', 0).attr('x2', 0).attr('y1', 0).attr('y2', 1);
navGrad.append('stop').attr('offset', 0).attr('stop-color', '#6a6e74');
navGrad.append('stop').attr('offset', 1).attr('stop-color', '#1a2230');

const header = svg.append('g');
box(header, 0, 0, width, 98, '#ffffff');
box(header, 0, 0, width, 34, 'url(#topShade)');
box(header, 0, 98, width, 4, '#dedede');
box(header, 469, 0, 1, 98, '#ececec');
box(header, 2330, 0, 1, 98, '#ececec');
box(header, 2678, 0, 1, 98, '#ececec');

// Logo
txt(header, 49, 61, 'opencart', { size: 60, weight: 900, fill: '#1fb4ee', family: 'Lato' })
  .attr('textLength', 270).attr('lengthAdjust', 'spacingAndGlyphs');
header.append('path').attr('d', 'M330,10 C345,24 375,22 403,20 C399,30 393,38 384,48')
  .attr('fill', 'none').attr('stroke', '#1fb4ee').attr('stroke-width', 4);
box(header, 343, 50, 7, 10, '#1fb4ee', 2);
box(header, 369, 50, 7, 10, '#1fb4ee', 2);

// Avatar
defs.append('clipPath').attr('id', 'avatarClip').append('circle').attr('cx', 2397).attr('cy', 41).attr('r', 45);
const avatar = header.append('g').attr('clip-path', 'url(#avatarClip)');
box(avatar, 2350, -6, 94, 94, '#0e3557');
avatar.append('path').attr('d', 'M2358,88 C2360,70 2375,66 2397,66 V88Z').attr('fill', '#5ba4e6');
avatar.append('path').attr('d', 'M2397,88 V66 C2419,66 2434,70 2436,88Z').attr('fill', '#3877ae');
avatar.append('path').attr('d', 'M2378,14 H2397 V78 H2390 V62 C2383,56 2378,40 2378,14Z').attr('fill', '#f6e5cb');
avatar.append('path').attr('d', 'M2416,14 H2397 V78 H2403 V62 C2411,56 2416,40 2416,14Z').attr('fill', '#ecd6b4');
avatar.append('path').attr('d', 'M2376,30 C2372,10 2384,0 2397,0 V20 L2385,22Z').attr('fill', '#edc52a');
avatar.append('path').attr('d', 'M2418,30 C2421,10 2410,0 2397,0 V20 L2412,18Z').attr('fill', '#d9a322');

txt(header, 2472, 48, 'demo demo', { fill: '#6a6a6a', size: 26 });
caret(header, 2642, 34, 14, 9, '#666666');
icon(header, 'logout', 2721, 28, 25, 25, '#777777');
txt(header, 2754, 48, 'Logout', { fill: '#6a6a6a', size: 26 });

// Sidebar
const side = svg.append('g');
box(side, 0, 100, 469, height - 100, '#232d38');
box(side, 0, 100, 469, 93, '#1a2230');
box(side, 0, 99, 469, 7, 'url(#navShade)');
icon(side, 'bullets', 30, 135, 23, 23, '#ffffff');
txt(side, 59, 156, 'NAVIGATION', { size: 26, fill: '#ffffff' });

const rowTop = 193, rowStep = 78;
menuLabels.forEach((label, i) => {
  const y0 = rowTop + i * rowStep;
  box(side, 0, y0 + rowStep - 1, 469, 2, '#2b3642');
  icon(side, menuIcons[i], 40, y0 + 25, 32, 28, '#adc9e2');
  txt(side, 83, y0 + 49, label, { size: 26, fill: '#adc9e2' });
  if (i > 0) chevron(side, 429, y0 + 39);
});

box(side, 40, 946, 390, 217, '#2e3a48', 5);
statusLabels.forEach((label, i) => {
  const y0 = 990 + i * 66;
  txt(side, 60, y0, label, { size: 22, fill: '#9b9b9b' });
  txt(side, 410, y0, statusValues[i], { size: 22, fill: '#9b9b9b', anchor: 'end' });
  box(side, 60, y0 + 14, 350, 6, '#eeeeee', 3);
});

// Page title
const main = svg.append('g');
txt(main, 511, 195, 'Dashboard', { size: 59.5, weight: 300, fill: '#484850' });
txt(main, 836, 196, 'Home', { size: 28, fill: '#999999' });
main.append('path').attr('d', 'M932,180L937,187L932,194').attr('fill', 'none').attr('stroke', '#aaaaaa').attr('stroke-width', 1.5);
txt(main, 949, 196, 'Dashboard', { size: 28, fill: '#1e88c8' });
box(main, 469, 242, width - 469, 2, '#e8e8e8');
box(main, 2763, 140, 76, 72, '#4fb3d3', 5);
icon(main, 'cog', 2790, 165, 22, 22, '#ffffff');

// Stat cards
const cardX = [510, 1107.5, 1705.5, 2302];
const cardW = [538, 538, 536.5, 537];
const cardIconFill = '#6babd7', cardBody = '#1b7dc2';
cardTitles.forEach((title, i) => {
  const x = cardX[i], w = cardW[i];
  const card = main.append('g');
  box(card, x, 274, w, 296, '#1a6fad', 6);
  box(card, x, 274, w, 56, '#3d8bc8', 6);
  box(card, x, 322, w, 8, '#3d8bc8');
  box(card, x, 330, w, 184, cardBody);
  txt(card, x + 16, 312, title, { size: 26, fill: '#ffffff' });
  if (cardDeltas[i]) {
    const dt = txt(card, x + w - 16, 312, cardDeltas[i], { size: 26, fill: '#c4dcf0', anchor: 'end' });
    const tx = x + w - 16 - dt.node().getComputedTextLength() - 14;
    if (cardDeltas[i][0] === '-') caret(card, tx, 298, 16, 9, '#c4dcf0');
    else card.append('path').attr('d', `M${tx - 8},307H${tx + 8}L${tx},298Z`).attr('fill', '#c4dcf0');
  }
  txt(card, x + w - 30, 438, cardValues[i], { size: 84, fill: '#ffffff', anchor: 'end' });
  txt(card, x + 16, 552, 'View more...', { size: 26, fill: '#ffffff' });
});
icon(main, 'cart', 540, 373, 94, 81, cardIconFill);
icon(main, 'card', 1139, 362, 106, 97, cardIconFill);
icon(main, 'user', 1735, 367, 71, 86, cardIconFill);
icon(main, 'user', 2332, 360, 44, 58, cardIconFill);
icon(main, 'user', 2395, 360, 44, 58, cardIconFill);
icon(main, 'user', 2347, 374, 78, 86, cardIconFill).attr('stroke', cardBody).attr('stroke-width', 1.2);

// Panels
function panel(x, y, w, h, headH) {
  const g = main.append('g');
  box(g, x - 1, y - 1, w + 2, h + 3, '#e0e0e0');
  box(g, x, y + 1, w, h - 2, '#ffffff');
  box(g, x, y + 1, w, headH, '#f5f5f5');
  box(g, x, y + headH, w, 2, '#dddddd');
  return g;
}

const mapPanel = panel(511, 601, 1133.5, 667, 86);
icon(mapPanel, 'globe', 543, 630, 25, 26, '#4a4a55');
txt(mapPanel, 585, 654, 'World Map', { size: 30 });

const chartPanel = panel(1707, 601, 1132, 667, 86);
icon(chartPanel, 'bars', 1737, 630, 34, 27, '#4a4a55');
txt(chartPanel, 1789, 654, 'Sales Analytics', { size: 30 });
icon(chartPanel, 'calendar', 2758, 630, 23, 27, '#2a95d5');
caret(chartPanel, 2800, 643, 14, 8, '#2a95d5');

const recentPanel = panel(512, 1307, 732, 164, 86);
icon(recentPanel, 'calendar', 542, 1336, 28, 28, '#4a4a55');
txt(recentPanel, 588, 1360, 'Recent Activity', { size: 30 });
txt(recentPanel, 879, 1441, 'No results!', { size: 26, anchor: 'middle' });

const ordersPanel = panel(1307, 1307, 1532, 175, 86);
icon(ordersPanel, 'cart', 1339, 1338, 28, 26, '#4a4a55');
txt(ordersPanel, 1385, 1360, 'Latest Orders', { size: 30 });
box(ordersPanel, 1307, 1462, 1532, 2, '#dddddd');
const headX = [1532, 1565, 1917, 2136, 2628, 2822];
const headAnchor = ['end', 'start', 'start', 'start', 'end', 'end'];
tableHeads.forEach((t, i) => {
  txt(ordersPanel, headX[i], 1437, t, { size: 26, weight: 700, fill: '#555555', anchor: headAnchor[i] });
});

// World map
const lonScale = d3.scaleLinear().domain([-180, 180]).range([595, 1519]);
const latScale = d3.scaleLinear().domain([-90, 90]).range([1301.6, 772.4]);
const mapColor = d3.scaleLinear().domain([0, 1, 100]).range(['#9FD5F1', '#B9D5FF', '#0055CC']);

// Parallels bend towards the poles and meridians lean in, as in the original map
const squeeze = lat => 1 - 0.22 * Math.pow(Math.abs(lat) / 70, 2.5) * (lat < 0 ? 0.8 : 1);
const stretch = lat => lat > 50 ? -0.041 * (lat - 50) * (lat - 50) : lat < -40 ? 0.06 * (lat + 40) * (lat + 40) : 0;
const mapTransform = d3.geoTransform({
  point(lon, lat) {
    const x = lonScale(0) + (lonScale(lon) - lonScale(0)) * squeeze(lat);
    const y = latScale(lat) + stretch(lat) - 3.7e-5 * lat * lon * lon;
    this.stream.point(x, y);
  }
});
const mapPath = d3.geoPath(mapTransform).pointRadius(1.6);

const readRing = s => {
  const pts = s.split(' ').map(p => p.split(',').map(Number));
  pts.push(pts[0]);
  return [pts];
};
const mapFeatures = Object.keys(mapShapes).map(id => ({
  type: 'Feature', id,
  geometry: { type: 'MultiPolygon', coordinates: mapShapes[id].map(readRing) }
}));

const mapLayer = main.append('g');
mapLayer.selectAll('path')
  .data(mapFeatures)
  .join('path')
  .attr('d', mapPath)
  .attr('fill', d => mapColor(mapValues[d.id]))
  .attr('stroke', '#ffffff')
  .attr('stroke-width', 1.3)
  .attr('stroke-linejoin', 'round');
mapLayer.append('path')
  .datum({ type: 'MultiPoint', coordinates: islandPoints })
  .attr('d', mapPath)
  .attr('fill', mapColor(10));

// Zoom buttons
[['+', 738], ['\u2212', 798]].forEach(b => {
  box(main, 563, b[1], 41, 40, '#000000', 6);
  txt(main, 583.5, b[1] + 28, b[0], { size: 28, weight: 700, fill: '#ffffff', anchor: 'middle' });
});

// Sales chart
const xDay = d3.scaleLinear().domain([1, 32.05]).range([1790, 2795]);
const yVal = d3.scaleLinear().domain([0, 400]).range([1194, 734]);
const chart = main.append('g');

chart.append('g').selectAll('line').data(days.slice(1)).join('line')
  .attr('x1', d => xDay(d)).attr('x2', d => xDay(d))
  .attr('y1', yVal(400)).attr('y2', yVal(0))
  .attr('stroke', '#d4d4d4').attr('stroke-width', 2);
chart.append('g').selectAll('line').data(yTicks.slice(1, -1)).join('line')
  .attr('x1', xDay.range()[0]).attr('x2', xDay.range()[1])
  .attr('y1', d => yVal(d)).attr('y2', d => yVal(d))
  .attr('stroke', '#d4d4d4').attr('stroke-width', 2);

function barPath(day, value) {
  const p = d3.path();
  p.moveTo(xDay(day), yVal(0));
  p.lineTo(xDay(day), yVal(value));
  p.lineTo(xDay(day + 1), yVal(value));
  p.lineTo(xDay(day + 1), yVal(0));
  return p.toString();
}

[[orders, '#9FD5F1', 0.3], [customers, '#1065D2', 0.33]].forEach(s => {
  chart.append('g').selectAll('path').data(days).join('path')
    .attr('d', d => barPath(d, s[0][d - 1]))
    .attr('fill', s[1]).attr('fill-opacity', s[2])
    .attr('stroke', s[1]).attr('stroke-width', 2.6);
});

chart.append('g').attr('class', 'axis')
  .attr('transform', 'translate(0,1229)')
  .call(d3.axisBottom(xDay).tickValues(days).tickSize(0).tickPadding(0).tickFormat(d => d3.format('02')(d)))
  .selectAll('text').attr('dy', 0).attr('y', 0);
chart.append('g').attr('class', 'axis')
  .attr('transform', 'translate(1777,0)')
  .call(d3.axisLeft(yVal).tickValues(yTicks).tickSize(0).tickPadding(0))
  .selectAll('text').attr('dy', '0.4em').attr('x', 0);

chart.append('rect')
  .attr('x', 1788).attr('y', 732).attr('width', 1008).attr('height', 464)
  .attr('fill', 'none').attr('stroke', '#545454').attr('stroke-width', 4);

// Legend
const legend = chart.append('g');
box(legend, 2644, 743, 142, 62, '#ffffff').attr('opacity', 0.85);
legendLabels.forEach((label, i) => {
  const y = 747 + i * 30;
  legend.append('rect').attr('x', 2648).attr('y', y).attr('width', 22).attr('height', 24)
    .attr('fill', i ? '#1065D2' : '#9FD5F1').attr('stroke', '#cccccc').attr('stroke-width', 2);
  txt(legend, 2673, y + 20, label, { size: 22, fill: '#545454' });
});
</script>
</body>
</html>
